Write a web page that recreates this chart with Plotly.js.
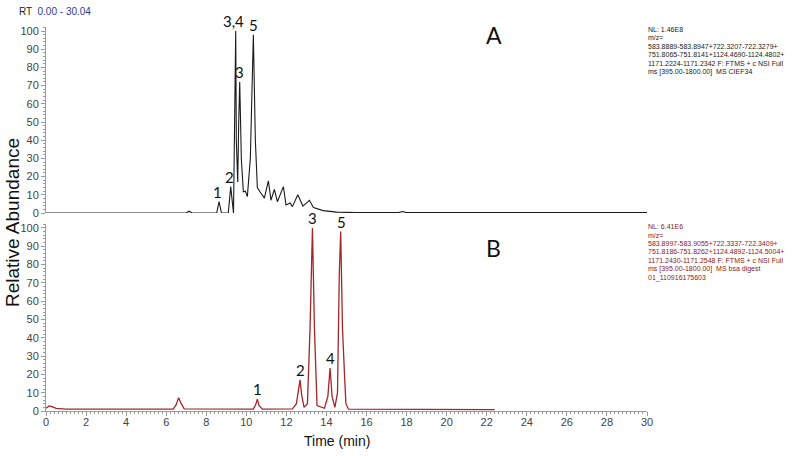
<!DOCTYPE html>
<html>
<head>
<meta charset="utf-8">
<script src="https://cdn.plot.ly/plotly-3.0.1.min.js"></script>
<style>
  body { margin: 0; background: #fff; }
  #chart { width: 800px; height: 456px; }
</style>
</head>
<body>
<div id="chart"></div>
<script>
// chromatogram A (CIEF34), time in min, relative abundance
var timeA = [0, 7.0, 7.14, 7.3, 8.52, 8.64, 8.76, 9.1, 9.22, 9.32, 9.36, 9.44, 9.47, 9.5, 9.57, 9.62, 9.67, 9.75, 9.85, 9.95, 10.05, 10.2, 10.3, 10.35, 10.45, 10.55, 10.68, 10.9, 11.1, 11.23, 11.4, 11.55, 11.85, 11.98, 12.18, 12.3, 12.57, 12.82, 13.15, 13.35, 13.84, 14.51, 15.48, 17.6, 17.8, 18.0, 30];
var absA  = [0, 0, 1, 0, 0, 6.2, 0, 0, 14.5, 0.5, 0, 73, 100, 40, 17, 50, 72, 30, 11.7, 12, 9, 30, 90, 98, 40, 14, 11.7, 8.2, 17.7, 7, 13, 6.2, 14.5, 4.4, 5.5, 3.5, 10, 3.8, 7, 3, 1.3, 0.5, 0.2, 0.2, 0.8, 0.2, 0.2];

// chromatogram B (bsa digest)
var timeB = [0, 0.15, 0.3, 0.5, 1.0, 6.35, 6.5, 6.62, 6.75, 6.9, 10.35, 10.47, 10.55, 10.63, 10.8, 12.3, 12.5, 12.6, 12.68, 12.76, 12.88, 13.05, 13.18, 13.3, 13.4, 13.53, 13.9, 14.07, 14.18, 14.28, 14.42, 14.55, 14.64, 14.71, 14.8, 14.9, 14.97, 15.1, 22.4];
var absB  = [1.5, 2.8, 2.4, 1.4, 1, 1, 3.5, 7.3, 4, 1.2, 1, 3.5, 6.5, 3, 1, 1.2, 4, 10, 17, 9, 2, 4, 45, 100, 45, 3, 1.5, 8, 23.5, 8, 2, 10, 75, 98, 45, 20, 4, 1, 0.8];

// peak labels
var peakTextA = ['1', '2', '3,4', '5', '3'];
var peakTimeA = [8.56, 9.15, 9.35, 10.34, 9.65];
var peakAbsA  = [6.2, 14.5, 100, 98, 72];

var peakTextB = ['1', '2', '3', '4', '5'];
var peakTimeB = [10.57, 12.68, 13.29, 14.18, 14.73];
var peakAbsB  = [6.5, 17, 100, 23.5, 98];

var infoA = [
  'NL: 1.46E8',
  'm/z=',
  '583.8889-583.8947+722.3207-722.3279+',
  '751.8065-751.8141+1124.4690-1124.4802+',
  '1171.2224-1171.2342 F: FTMS + c NSI Full',
  'ms [395.00-1800.00]  MS CIEF34'
];
var infoB = [
  'NL: 6.41E6',
  'm/z=',
  '583.8997-583.9055+722.3337-722.3409+',
  '751.8186-751.8262+1124.4892-1124.5004+',
  '1171.2430-1171.2548 F: FTMS + c NSI Full',
  'ms [395.00-1800.00]  MS bsa digest',
  '01_110916175603'
];

var W = 800, H = 456, L = 46, PW = 601;
function px(x) { return (x - L) / PW; }
function py(y) { return (H - y) / H; }

var axisGrey = '#9a9a9a';
var tickFont = {family: 'Liberation Sans, Arial', size: 11, color: '#444'};
var labelFont = {family: 'Lato, Open Sans', size: 15, color: '#111'};

var traces = [
  {x: timeA, y: absA, xaxis: 'x', yaxis: 'y2', type: 'scatter', mode: 'lines',
   line: {color: '#1a1a1a', width: 1.1}, hoverinfo: 'skip'},
  {x: timeB, y: absB, xaxis: 'x', yaxis: 'y', type: 'scatter', mode: 'lines',
   line: {color: '#a3262a', width: 1.3}, hoverinfo: 'skip'}
];

var yCommon = {
  range: [0, 102], dtick: 10, tick0: 0, showgrid: false, zeroline: false,
  showline: true, linecolor: axisGrey, linewidth: 1,
  ticks: 'outside', ticklen: 4, tickcolor: axisGrey, tickfont: tickFont,
  minor: {dtick: 2, ticks: 'outside', ticklen: 2, tickcolor: axisGrey}
};

// paper-positioned text, anchored explicitly
function note(x, y, text, font, extra) {
  var a = {x: px(x), y: py(y), xref: 'paper', yref: 'paper', text: text,
    showarrow: false, xanchor: 'center', yanchor: 'middle', font: font};
  return Object.assign(a, extra || {});
}

var ann = [];
for (var i = 0; i < peakTextA.length; i++) {
  ann.push({x: peakTimeA[i], y: peakAbsA[i], xref: 'x', yref: 'y2', text: peakTextA[i],
    showarrow: false, xanchor: 'center', yanchor: 'bottom', yshift: -1, font: labelFont});
}
for (var j = 0; j < peakTextB.length; j++) {
  ann.push({x: peakTimeB[j], y: peakAbsB[j], xref: 'x', yref: 'y', text: peakTextB[j],
    showarrow: false, xanchor: 'center', yanchor: 'bottom', yshift: -1, font: labelFont});
}
for (var k = 0; k < infoA.length; k++) {
  ann.push(note(646, 29.5 + k * 8.4, infoA[k],
    {family: 'Liberation Sans, Arial', size: 7, color: '#222'}, {xanchor: 'left'}));
}
for (var m = 0; m < infoB.length; m++) {
  ann.push(note(646, 226.5 + m * 8.5, infoB[m],
    {family: 'Liberation Sans, Arial', size: 7, color: '#8b1a1a'}, {xanchor: 'left'}));
}
ann.push(note(494, 35, 'A', {family: 'Lato, Open Sans', size: 23, color: '#111'}));
ann.push(note(493, 248, 'B', {family: 'Lato, Open Sans', size: 23, color: '#111'}));
ann.push(note(12, 223, 'Relative Abundance', {family: 'Liberation Sans, Arial', size: 19, color: '#111'},
  {textangle: -90}));
ann.push(note(337, 441, 'Time (min)', {family: 'Liberation Sans, Arial', size: 14, color: '#111'}));
ann.push(note(17, 11, 'RT  <span style="color:#2e3a8c">0.00 - 30.04</span>',
  {family: 'Liberation Sans, Arial', size: 10, color: '#222'}, {xanchor: 'left'}));

var layout = {
  width: W, height: H,
  margin: {l: L, r: W - L - PW, t: 0, b: 0},
  paper_bgcolor: '#fff', plot_bgcolor: '#fff',
  showlegend: false,
  xaxis: {
    range: [0, 30], dtick: 2, tick0: 0, anchor: 'y', showgrid: false, zeroline: false,
    showline: true, linecolor: axisGrey, linewidth: 1,
    ticks: 'outside', ticklen: 4, tickcolor: axisGrey, tickfont: tickFont,
    ticklabelstandoff: -3,
    minor: {dtick: 0.2, ticks: 'outside', ticklen: 2, tickcolor: axisGrey}
  },
  yaxis: Object.assign({domain: [py(411), py(224.3)], anchor: 'x'}, yCommon),
  yaxis2: Object.assign({domain: [py(213), py(27.4)], anchor: 'x'}, yCommon),
  annotations: ann
};

Plotly.newPlot('chart', traces, layout, {staticPlot: true});
</script>
</body>
</html>
